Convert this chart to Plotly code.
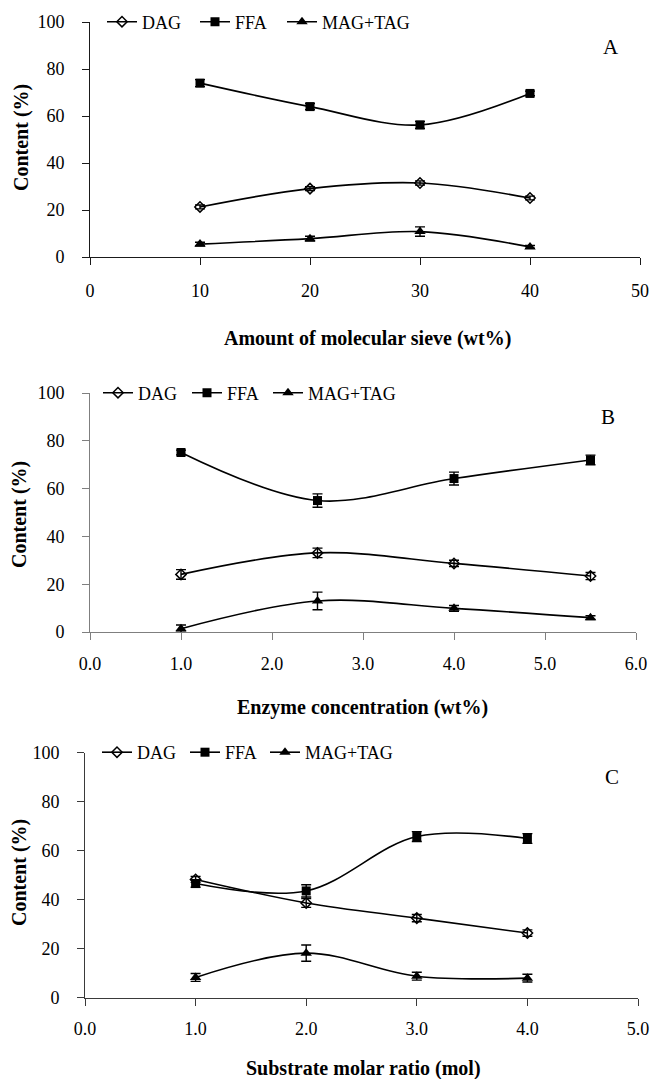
import plotly.graph_objects as go

W, H = 652, 1079

# ---------------- data ----------------
series_names = ["DAG", "FFA", "MAG+TAG"]

a_x = [10, 20, 30, 40]
a_dag = [21.3, 29.1, 31.5, 25.1]
a_dag_err = [0.8, 0.8, 0.9, 0.8]
a_ffa = [74.0, 64.0, 56.2, 69.6]
a_ffa_err = [1.5, 1.3, 1.5, 1.0]
a_mag = [5.5, 7.8, 10.8, 4.3]
a_mag_err = [0.8, 1.0, 2.0, 0.6]

b_x = [1.0, 2.5, 4.0, 5.5]
b_dag = [24.1, 33.1, 28.7, 23.4]
b_dag_err = [2.0, 2.0, 1.3, 1.5]
b_ffa = [75.1, 55.0, 64.2, 72.0]
b_ffa_err = [1.0, 2.8, 2.7, 2.0]
b_mag = [1.4, 13.0, 9.9, 6.0]
b_mag_err = [1.5, 3.7, 1.2, 0.8]

c_x = [1.0, 2.0, 3.0, 4.0]
c_dag = [48.2, 38.6, 32.4, 26.3]
c_dag_err = [1.2, 1.8, 1.5, 1.3]
c_ffa = [46.5, 43.5, 65.7, 64.9]
c_ffa_err = [1.5, 2.5, 2.0, 2.0]
c_mag = [8.2, 18.1, 8.7, 7.9]
c_mag_err = [1.6, 3.3, 1.6, 1.6]

a_xticks = [0, 10, 20, 30, 40, 50]
a_xticktext = ["0", "10", "20", "30", "40", "50"]
b_xticks = [0, 1, 2, 3, 4, 5, 6]
b_xticktext = ["0.0", "1.0", "2.0", "3.0", "4.0", "5.0", "6.0"]
c_xticks = [0, 1, 2, 3, 4, 5]
c_xticktext = ["0.0", "1.0", "2.0", "3.0", "4.0", "5.0"]
y_ticks = [0, 20, 40, 60, 80, 100]
y_ticktext = ["0", "20", "40", "60", "80", "100"]

panel_letters = ["A", "B", "C"]
x_titles = ["Amount of molecular sieve (wt%)",
            "Enzyme concentration (wt%)",
            "Substrate molar ratio (mol)"]
y_title = "Content (%)"

# ---------------- layout helpers ----------------
def px(x):
    return x / W

def py(y):
    return 1 - y / H

SERIF = "Liberation Serif"

# pixel boxes: (left, right, top, bottom), axis colors
boxes = [(90, 640, 22, 257), (90, 636, 393, 632), (85, 638, 752.5, 997.5)]
axis_colors = ["#1a1a1a", "#7f7f7f", "#3a3a3a"]
x_standoffs = [10, 8, 8]
# left pixel of each legend entry (one legend per entry)
legend_lefts = [(102, 195, 282), (98, 187, 268), (97, 185, 265)]

fig = go.Figure()

panels = [
    (a_x, [(a_dag, a_dag_err), (a_ffa, a_ffa_err), (a_mag, a_mag_err)]),
    (b_x, [(b_dag, b_dag_err), (b_ffa, b_ffa_err), (b_mag, b_mag_err)]),
    (c_x, [(c_dag, c_dag_err), (c_ffa, c_ffa_err), (c_mag, c_mag_err)]),
]
markers = [
    dict(symbol="diamond-open", size=8, color="black", line=dict(width=1.5, color="black")),
    dict(symbol="square", size=9, color="black"),
    dict(symbol="triangle-up", size=10, color="black"),
]

layout = dict(
    template="none",
    width=W, height=H,
    showlegend=True,
    margin=dict(l=0, r=0, t=0, b=0, autoexpand=False),
    paper_bgcolor="white", plot_bgcolor="white",
    font=dict(family=SERIF, size=17, color="black"),
    annotations=[],
)

for i, (xs, series) in enumerate(panels):
    xa = "x" if i == 0 else f"x{i+1}"
    ya = "y" if i == 0 else f"y{i+1}"
    for j, (vals, errs) in enumerate(series):
        k = i * 3 + j
        lid = "legend" if k == 0 else f"legend{k+1}"
        fig.add_trace(go.Scatter(
            x=xs, y=vals, name=series_names[j],
            mode="lines+markers",
            line=dict(color="black", width=1.6, shape="spline", smoothing=1.0),
            marker=markers[j],
            error_y=dict(type="data", array=errs, visible=True,
                         color="black", thickness=1.4, width=5),
            xaxis=xa, yaxis=ya, legend=lid, showlegend=True, cliponaxis=False,
        ))
        layout[lid] = dict(
            orientation="h", x=px(legend_lefts[i][j]), y=py(boxes[i][2]),
            xanchor="left", yanchor="middle",
            bgcolor="rgba(0,0,0,0)", font=dict(family=SERIF, size=18, color="black"),
            itemclick=False, itemdoubleclick=False, borderwidth=0, visible=True,
        )

xticks = [(a_xticks, a_xticktext, [0, 50]),
          (b_xticks, b_xticktext, [0, 6]),
          (c_xticks, c_xticktext, [0, 5])]

for i in range(3):
    l, r, t, b = boxes[i]
    sfx = "" if i == 0 else str(i + 1)
    tv, tt, rng = xticks[i]
    layout[f"xaxis{sfx}"] = dict(
        domain=[px(l), px(r)], range=rng, anchor=f"y{sfx}",
        tickvals=tv, ticktext=tt, ticks="outside", ticklen=7, tickwidth=1,
        tickcolor=axis_colors[i], showline=True, linecolor=axis_colors[i],
        linewidth=1, showgrid=False, zeroline=False, automargin=False,
        ticklabelstandoff=x_standoffs[i], tickfont=dict(family=SERIF, size=18, color="black"),
    )
    layout[f"yaxis{sfx}"] = dict(
        domain=[py(b), py(t)], range=[0, 100], anchor=f"x{sfx}",
        tickvals=y_ticks, ticktext=y_ticktext, ticks="outside", ticklen=7, tickwidth=1,
        tickcolor=axis_colors[i], showline=True, linecolor=axis_colors[i],
        linewidth=1, showgrid=False, zeroline=False, automargin=False,
        ticklabelstandoff=14, tickfont=dict(family=SERIF, size=18, color="black"),
    )

letter_pos = [(611, 47), (608, 417), (612, 777)]
xtitle_pos = [(367, 338), (362, 707), (363, 1068)]
ytitle_pos = [(22, 138), (19, 515), (19, 873)]

for i in range(3):
    lx, ly = letter_pos[i]
    layout["annotations"].append(dict(
        text=panel_letters[i], x=px(lx), y=py(ly), xref="paper", yref="paper",
        showarrow=False, xanchor="center", yanchor="middle",
        font=dict(family=SERIF, size=21, color="black")))
    tx, ty = xtitle_pos[i]
    layout["annotations"].append(dict(
        text=f"<b>{x_titles[i]}</b>", x=px(tx), y=py(ty), xref="paper", yref="paper",
        showarrow=False, xanchor="center", yanchor="middle",
        font=dict(family=SERIF, size=20, color="black")))
    yx, yy = ytitle_pos[i]
    layout["annotations"].append(dict(
        text=f"<b>{y_title}</b>", x=px(yx), y=py(yy), xref="paper", yref="paper",
        showarrow=False, xanchor="center", yanchor="middle", textangle=-90,
        font=dict(family=SERIF, size=20, color="black")))

fig.update_layout(**layout)
fig.write_html(
    "out.html",
    config={"displayModeBar": False},
    post_script="document.body.style.margin='0px';document.body.style.overflow='hidden';",
)
